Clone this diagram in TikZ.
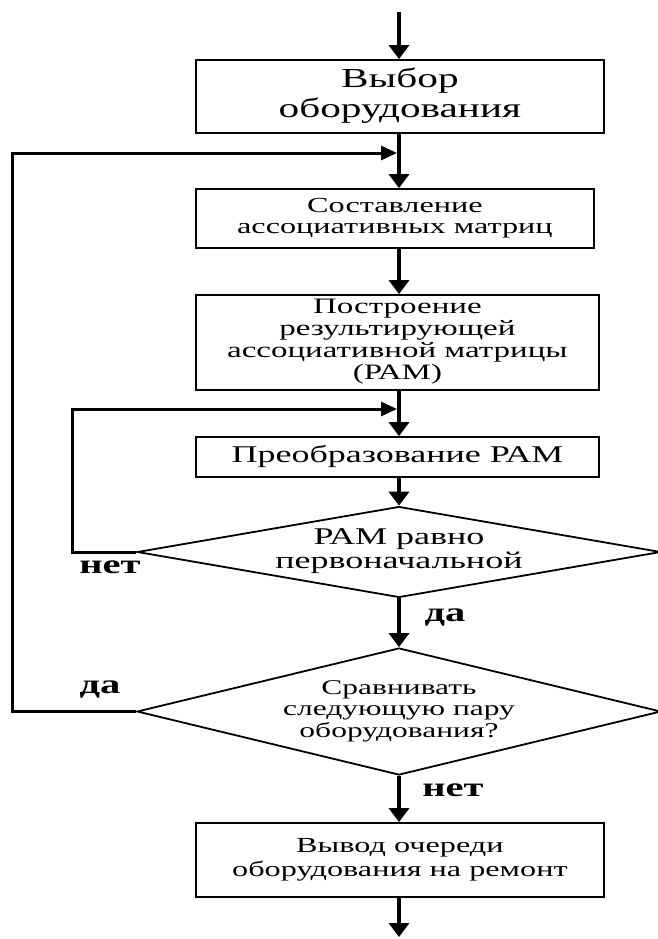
\documentclass[tikz,border=0pt]{standalone}
\usepackage{fontspec}
\setmainfont{Liberation Serif}
\usetikzlibrary{shapes.geometric,arrows.meta}

\newcommand{\shir}[1]{\scalebox{1.5}[1]{\begin{tabular}{@{}c@{}}#1\end{tabular}}}

\tikzset{
  blok/.style={draw, line width=1.8pt, inner sep=0pt, anchor=west},
  resh/.style={draw, diamond, line width=1.8pt, inner sep=0pt},
  strel/.style={-{Triangle[width=20pt,length=14pt]}, line width=3.5pt},
  petlya/.style={-{Triangle[width=14pt,length=16pt]}, line width=3pt},
  otv/.style={font=\bfseries\fontsize{27}{30}\selectfont},
}

\begin{document}
\begin{tikzpicture}[x=1pt,y=-1pt]
    \useasboundingbox (0,0) rectangle (658,939);
    \coordinate (os) at (399,0);

    %Блоки
    \node[blok, minimum width=408pt, minimum height=73pt, font=\fontsize{27.5}{30}\selectfont] (vybor) at (195,96.5) {\shir{Выбор\\оборудования}};
    \node[blok, minimum width=398pt, minimum height=59pt, font=\fontsize{21.5}{21}\selectfont] (sost) at (195,218.5) {\shir{Составление\\ассоциативных матриц}};
    \node[blok, minimum width=403pt, minimum height=95pt, font=\fontsize{22}{22}\selectfont] (postr) at (195,342.5) {\shir{Построение\\результирующей\\ассоциативной матрицы\\(РАМ)}};
    \node[blok, minimum width=403pt, minimum height=40pt, font=\fontsize{24}{26}\selectfont] (preobr) at (195,457) {\shir{Преобразование РАМ}};
    \node[resh, shape aspect=5.76, minimum width=518pt, minimum height=90pt, font=\fontsize{24}{24}\selectfont] (rav) at (399,552) {\shir{РАМ равно\\первоначальной}};
    \node[resh, shape aspect=4.13, minimum width=524pt, minimum height=127pt, font=\fontsize{21}{21.5}\selectfont] (sravn) at (399,711.5) {\shir{Сравнивать\\следующую пару\\оборудования?}};
    \node[blok, minimum width=408pt, minimum height=74pt, font=\fontsize{21.5}{24}\selectfont] (vyvod) at (195,860) {\shir{Вывод очереди\\оборудования на ремонт}};

    %Ответы
    \node[otv] (net1) at (110,567) {\shir{нет}};
    \node[otv] (da1) at (445,615) {\shir{да}};
    \node[otv] (da2) at (100,687) {\shir{да}};
    \node[otv] (net2) at (453,790) {\shir{нет}};

    %Стрелки
    \coordinate (vhod) at (399,12);
    \coordinate (vyhod) at (399,937);
    \draw[strel] (vhod) -- (vybor.north -| os);
    \draw[strel] (vybor.south -| os) -- (sost.north -| os);
    \draw[strel] (sost.south -| os) -- (postr.north -| os);
    \draw[strel] (postr.south -| os) -- (preobr.north -| os);
    \draw[strel] (preobr.south -| os) -- (rav.north);
    \draw[strel] (rav.south) -- (sravn.north);
    \draw[strel] (sravn.south) -- (vyvod.north -| os);
    \draw[strel] (vyvod.south -| os) -- (vyhod);

    %Петли
    \coordinate (lev1) at (12,153);
    \coordinate (j1) at (397,153);
    \coordinate (lev2) at (72,409);
    \coordinate (j2) at (397,409);
    \draw[petlya] (sravn.west) -| (lev1) -- (j1);
    \draw[petlya] (rav.west) -| (lev2) -- (j2);

\end{tikzpicture}
\end{document}
